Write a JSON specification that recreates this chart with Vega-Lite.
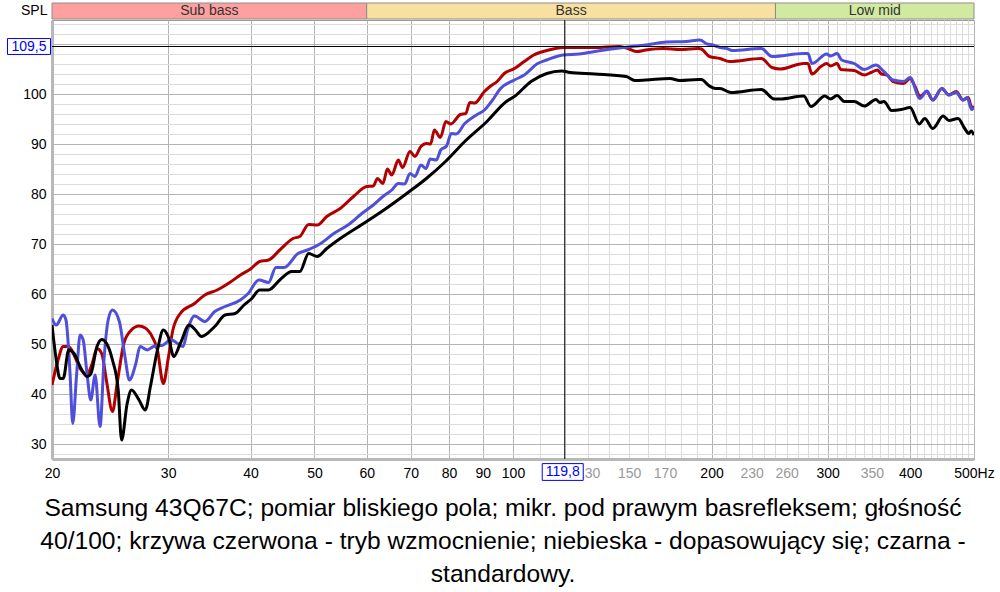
{
  "$schema": "https://vega.github.io/schema/vega-lite/v6.json",
  "width": 922,
  "height": 439,
  "autosize": {"type": "none"},
  "padding": {"left": 52, "top": 20, "right": 26, "bottom": 133},
  "background": "white",
  "config": {
    "view": {"stroke": "#999999", "strokeWidth": 1},
    "font": "Liberation Sans",
    "axis": {"labelFontSize": 14, "labelFont": "Liberation Sans", "labelColor": "#000000", "ticks": false, "grid": true, "gridWidth": 1, "domainColor": "#b8b8b8", "domainWidth": 3, "labelOverlap": false, "labelFlush": false},
    "axisY": {"titleAngle": 0, "titleAlign": "right", "titleBaseline": "alphabetic", "titleX": -5, "titleY": -6, "titleFontSize": 14, "titleFontWeight": "normal", "titleFont": "Liberation Sans", "titleColor": "#000000", "labelPadding": 6},
    "axisX": {"labelPadding": 7}
  },
  "title": {
    "text": ["Samsung 43Q67C; pomiar bliskiego pola; mikr. pod prawym basrefleksem; głośność", "40/100; krzywa czerwona - tryb wzmocnienie; niebieska - dopasowujący się; czarna -", "standardowy."],
    "orient": "bottom",
    "anchor": "middle",
    "frame": "group",
    "dx": -10,
    "offset": 15,
    "fontSize": 24.6,
    "fontWeight": "normal",
    "font": "Liberation Sans",
    "color": "black",
    "lineHeight": 33
  },
  "datasets": {
    "bands": [
      {"band": "Sub bass", "f1": 20, "f2": 60},
      {"band": "Bass", "f1": 60, "f2": 250},
      {"band": "Low mid", "f1": 250, "f2": 500}
    ],
    "red": [
      {"f": 20, "db": 41.8}, {"f": 20.4, "db": 46.5}, {"f": 20.8, "db": 49.5}, {"f": 21.2, "db": 49.5}, {"f": 21.6, "db": 47.8},
      {"f": 22.06, "db": 45.1}, {"f": 22.6, "db": 44.0}, {"f": 23.0, "db": 46.0}, {"f": 23.4, "db": 49.1}, {"f": 23.8, "db": 48.0},
      {"f": 24.2, "db": 42.5}, {"f": 24.7, "db": 36.5}, {"f": 25.1, "db": 42.0}, {"f": 25.7, "db": 50.1}, {"f": 26.3, "db": 52.6},
      {"f": 27.1, "db": 53.6}, {"f": 27.7, "db": 53.2}, {"f": 28.2, "db": 52.1}, {"f": 28.9, "db": 48.8}, {"f": 29.5, "db": 42.1},
      {"f": 30.0, "db": 47.0}, {"f": 30.5, "db": 52.8}, {"f": 31.3, "db": 56.1}, {"f": 32.9, "db": 58.1}, {"f": 34.1, "db": 59.8},
      {"f": 35.6, "db": 60.8}, {"f": 37.3, "db": 62.4}, {"f": 38.6, "db": 63.8}, {"f": 40.0, "db": 65.0}, {"f": 41.3, "db": 66.5},
      {"f": 42.6, "db": 66.8}, {"f": 44.3, "db": 68.8}, {"f": 46.4, "db": 71.1}, {"f": 47.5, "db": 71.5}, {"f": 49.0, "db": 73.9},
      {"f": 50.5, "db": 73.8}, {"f": 52.2, "db": 75.5}, {"f": 54.7, "db": 77.1}, {"f": 57.3, "db": 79.5}, {"f": 60, "db": 81.5},
      {"f": 61.4, "db": 81.6}, {"f": 62.3, "db": 83.1}, {"f": 63.5, "db": 82.1}, {"f": 64.5, "db": 85.0}, {"f": 65.5, "db": 83.8},
      {"f": 67, "db": 86.8}, {"f": 68, "db": 85.3}, {"f": 69.8, "db": 88.5}, {"f": 71, "db": 87.5}, {"f": 72.5, "db": 89.5},
      {"f": 73.9, "db": 90.1}, {"f": 75, "db": 90.0}, {"f": 76, "db": 92.8}, {"f": 77.6, "db": 91.3}, {"f": 79.1, "db": 94.5},
      {"f": 80.5, "db": 94.0}, {"f": 83.2, "db": 95.9}, {"f": 84.8, "db": 96.1}, {"f": 86, "db": 98.3}, {"f": 87.5, "db": 98.2},
      {"f": 90.5, "db": 100.5}, {"f": 92.3, "db": 101.5}, {"f": 94.6, "db": 102.5}, {"f": 97, "db": 104.1}, {"f": 100.5, "db": 105.1},
      {"f": 104, "db": 106.5}, {"f": 107.5, "db": 107.8}, {"f": 112.5, "db": 108.7}, {"f": 119.6, "db": 109.3}, {"f": 126, "db": 109.3},
      {"f": 133, "db": 109.3}, {"f": 145, "db": 109.5}, {"f": 150, "db": 109.0}, {"f": 154, "db": 108.5}, {"f": 159, "db": 108.8},
      {"f": 169, "db": 109.1}, {"f": 179.5, "db": 108.9}, {"f": 191, "db": 109.1}, {"f": 193, "db": 109.0}, {"f": 198.5, "db": 107.5},
      {"f": 206, "db": 107.1}, {"f": 213, "db": 106.5}, {"f": 238, "db": 107.1}, {"f": 247, "db": 105.3}, {"f": 254, "db": 105.0},
      {"f": 276, "db": 106.1}, {"f": 280, "db": 106.1}, {"f": 284, "db": 104.0}, {"f": 293, "db": 105.5}, {"f": 299, "db": 106.1},
      {"f": 303, "db": 105.6}, {"f": 310, "db": 106.1}, {"f": 314, "db": 104.9}, {"f": 329, "db": 104.7}, {"f": 341, "db": 103.8},
      {"f": 349, "db": 104.3}, {"f": 357, "db": 104.8}, {"f": 362, "db": 104.0}, {"f": 369, "db": 103.8}, {"f": 377, "db": 102.5},
      {"f": 391, "db": 102.1}, {"f": 400, "db": 103.1}, {"f": 407, "db": 101.5}, {"f": 414, "db": 99.5}, {"f": 424, "db": 100.5},
      {"f": 433, "db": 98.8}, {"f": 447, "db": 101.1}, {"f": 458, "db": 99.8}, {"f": 470, "db": 100.5}, {"f": 481, "db": 98.8},
      {"f": 490, "db": 99.3}, {"f": 496, "db": 97.3}, {"f": 500, "db": 97.5}
    ],
    "blue": [
      {"f": 20, "db": 55.1}, {"f": 20.3, "db": 53.8}, {"f": 20.8, "db": 55.8}, {"f": 21.0, "db": 54.8}, {"f": 21.3, "db": 44.1},
      {"f": 21.5, "db": 34.1}, {"f": 21.8, "db": 44.1}, {"f": 22.06, "db": 51.8}, {"f": 22.3, "db": 50.8}, {"f": 22.6, "db": 44.1},
      {"f": 22.9, "db": 38.8}, {"f": 23.25, "db": 43.8}, {"f": 23.65, "db": 33.5}, {"f": 24.0, "db": 47.5}, {"f": 24.35, "db": 55.0},
      {"f": 24.7, "db": 56.8}, {"f": 25.3, "db": 54.5}, {"f": 25.8, "db": 47.5}, {"f": 26.2, "db": 42.8}, {"f": 26.8, "db": 46.1},
      {"f": 27.2, "db": 49.5}, {"f": 27.9, "db": 48.8}, {"f": 28.5, "db": 49.5}, {"f": 29.5, "db": 49.8}, {"f": 30.3, "db": 50.9},
      {"f": 31.0, "db": 50.1}, {"f": 31.6, "db": 49.5}, {"f": 32.1, "db": 52.8}, {"f": 32.9, "db": 55.6}, {"f": 34.1, "db": 54.5},
      {"f": 35.3, "db": 56.5}, {"f": 36.6, "db": 57.5}, {"f": 38.6, "db": 58.8}, {"f": 39.6, "db": 60.0}, {"f": 41.2, "db": 62.8},
      {"f": 42.6, "db": 62.3}, {"f": 43.7, "db": 65.3}, {"f": 45, "db": 65.3}, {"f": 47.2, "db": 68.1}, {"f": 48.8, "db": 68.8},
      {"f": 51.1, "db": 70.1}, {"f": 53.5, "db": 72.1}, {"f": 56.2, "db": 73.8}, {"f": 59, "db": 76.1}, {"f": 61.4, "db": 77.8},
      {"f": 63.5, "db": 79.5}, {"f": 65.5, "db": 80.8}, {"f": 67, "db": 82.1}, {"f": 68.5, "db": 82.0}, {"f": 69.8, "db": 84.1},
      {"f": 71, "db": 83.5}, {"f": 72.5, "db": 85.8}, {"f": 73.8, "db": 85.1}, {"f": 74.9, "db": 87.0}, {"f": 76.5, "db": 86.8},
      {"f": 77.7, "db": 88.8}, {"f": 79.3, "db": 89.6}, {"f": 80.6, "db": 92.1}, {"f": 82, "db": 92.0}, {"f": 84.5, "db": 94.1},
      {"f": 88, "db": 95.8}, {"f": 90.5, "db": 96.8}, {"f": 93, "db": 98.7}, {"f": 95.6, "db": 101.0}, {"f": 100.5, "db": 102.8},
      {"f": 104, "db": 103.8}, {"f": 109, "db": 106.1}, {"f": 112.5, "db": 106.8}, {"f": 119, "db": 107.8}, {"f": 126, "db": 108.0},
      {"f": 133, "db": 108.5}, {"f": 147, "db": 109.3}, {"f": 159, "db": 109.8}, {"f": 171, "db": 110.4}, {"f": 183, "db": 110.5},
      {"f": 192, "db": 110.8}, {"f": 197, "db": 110.0}, {"f": 201, "db": 109.8}, {"f": 206, "db": 109.3}, {"f": 211, "db": 109.1},
      {"f": 215, "db": 108.7}, {"f": 238, "db": 109.1}, {"f": 247, "db": 107.5}, {"f": 276, "db": 108.1}, {"f": 280, "db": 108.1},
      {"f": 284, "db": 106.1}, {"f": 299, "db": 108.0}, {"f": 303, "db": 107.6}, {"f": 310, "db": 108.1}, {"f": 315, "db": 106.8},
      {"f": 329, "db": 106.1}, {"f": 341, "db": 104.9}, {"f": 355, "db": 105.8}, {"f": 365, "db": 104.5}, {"f": 377, "db": 102.8},
      {"f": 391, "db": 102.5}, {"f": 400, "db": 103.3}, {"f": 414, "db": 99.1}, {"f": 424, "db": 100.6}, {"f": 433, "db": 98.8},
      {"f": 447, "db": 101.1}, {"f": 458, "db": 99.8}, {"f": 470, "db": 100.3}, {"f": 481, "db": 98.8}, {"f": 488, "db": 99.3},
      {"f": 496, "db": 96.9}, {"f": 500, "db": 97.3}
    ],
    "black": [
      {"f": 20, "db": 53.8}, {"f": 20.3, "db": 46.8}, {"f": 20.56, "db": 43.1}, {"f": 20.8, "db": 43.1}, {"f": 21.2, "db": 48.8},
      {"f": 21.6, "db": 48.1}, {"f": 22.06, "db": 45.5}, {"f": 22.6, "db": 43.5}, {"f": 22.9, "db": 44.0}, {"f": 23.4, "db": 49.5},
      {"f": 23.8, "db": 50.9}, {"f": 24.2, "db": 50.1}, {"f": 24.7, "db": 46.8}, {"f": 25.2, "db": 40.8}, {"f": 25.5, "db": 30.8},
      {"f": 26.0, "db": 38.1}, {"f": 26.4, "db": 40.8}, {"f": 27.1, "db": 38.8}, {"f": 27.7, "db": 36.8}, {"f": 28.2, "db": 41.5},
      {"f": 28.9, "db": 48.8}, {"f": 29.5, "db": 52.8}, {"f": 30.0, "db": 51.5}, {"f": 30.6, "db": 47.5}, {"f": 31.3, "db": 50.1},
      {"f": 32.3, "db": 53.8}, {"f": 33.0, "db": 52.8}, {"f": 33.7, "db": 51.5}, {"f": 35.3, "db": 53.5}, {"f": 36.6, "db": 55.8},
      {"f": 37.9, "db": 56.1}, {"f": 39.1, "db": 57.8}, {"f": 40.1, "db": 59.0}, {"f": 41.3, "db": 60.8}, {"f": 42.6, "db": 60.8},
      {"f": 44.3, "db": 62.8}, {"f": 46.2, "db": 64.5}, {"f": 47.5, "db": 64.5}, {"f": 49.0, "db": 68.1}, {"f": 50.5, "db": 67.5},
      {"f": 52.2, "db": 69.1}, {"f": 54.7, "db": 71.1}, {"f": 60, "db": 74.5}, {"f": 64.2, "db": 77.1}, {"f": 69, "db": 80.1},
      {"f": 73.9, "db": 83.1}, {"f": 79, "db": 86.5}, {"f": 84.5, "db": 90.5}, {"f": 91.3, "db": 94.5}, {"f": 97.7, "db": 98.5},
      {"f": 100.5, "db": 99.5}, {"f": 106.5, "db": 102.5}, {"f": 112.5, "db": 104.1}, {"f": 118.5, "db": 104.6}, {"f": 122, "db": 104.3},
      {"f": 133, "db": 104.0}, {"f": 148.5, "db": 103.5}, {"f": 153, "db": 102.7}, {"f": 159, "db": 102.8}, {"f": 173, "db": 103.1},
      {"f": 179, "db": 102.7}, {"f": 191, "db": 102.9}, {"f": 193, "db": 102.9}, {"f": 198.5, "db": 101.6}, {"f": 203, "db": 101.1},
      {"f": 206, "db": 101.1}, {"f": 214, "db": 100.3}, {"f": 238, "db": 100.9}, {"f": 249, "db": 99.0}, {"f": 254, "db": 99.0},
      {"f": 276, "db": 99.6}, {"f": 283, "db": 97.5}, {"f": 297, "db": 99.6}, {"f": 303, "db": 99.0}, {"f": 310, "db": 99.7},
      {"f": 318, "db": 98.5}, {"f": 329, "db": 98.5}, {"f": 341, "db": 97.6}, {"f": 355, "db": 98.9}, {"f": 360, "db": 98.3},
      {"f": 365, "db": 98.5}, {"f": 375, "db": 96.7}, {"f": 388, "db": 96.9}, {"f": 400, "db": 97.3}, {"f": 413, "db": 94.0},
      {"f": 421, "db": 95.1}, {"f": 433, "db": 93.1}, {"f": 449, "db": 95.6}, {"f": 458, "db": 94.7}, {"f": 473, "db": 95.1},
      {"f": 484, "db": 93.1}, {"f": 491, "db": 92.1}, {"f": 495, "db": 92.6}, {"f": 500, "db": 91.8}
    ]
  },
  "layer": [
    {
      "data": {"name": "red"},
      "mark": {"type": "line", "color": "#b00000", "strokeWidth": 3, "interpolate": "monotone", "clip": true},
      "encoding": {
        "x": {"field": "f", "type": "quantitative", "scale": {"type": "log", "domain": [20, 500], "nice": false},
          "axis": {"title": null, "values": [20, 30, 40, 50, 60, 70, 80, 90, 100, 110, 120, 130, 140, 150, 160, 170, 180, 190, 200, 210, 220, 230, 240, 250, 260, 270, 280, 290, 300, 310, 320, 330, 340, 350, 360, 370, 380, 390, 400, 410, 420, 430, 440, 450, 460, 470, 480, 490, 500], "labelExpr": "indexof([20,30,40,50,60,70,80,90,100,130,150,170,200,230,260,300,350,400], round(datum.value)) >= 0 ? format(round(datum.value), 'd') : (round(datum.value) == 500 ? '500Hz' : '')", "labelColor": {"condition": {"test": "indexof([130,150,170,230,260,350], round(datum.value)) >= 0", "value": "#999999"}, "value": "#000000"}, "gridColor": {"condition": {"test": "round(datum.value) <= 100 || round(datum.value) % 100 == 0", "value": "#b4b4b4"}, "value": "#dcdcdc"}}},
        "y": {"field": "db", "type": "quantitative", "scale": {"domain": [27, 114.8], "nice": false, "zero": false},
          "axis": {"title": "SPL", "values": [28, 30, 32, 34, 36, 38, 40, 42, 44, 46, 48, 50, 52, 54, 56, 58, 60, 62, 64, 66, 68, 70, 72, 74, 76, 78, 80, 82, 84, 86, 88, 90, 92, 94, 96, 98, 100, 102, 104, 106, 108, 110, 112, 114], "labelExpr": "(round(datum.value) % 10 == 0 && round(datum.value) <= 100) ? format(round(datum.value), 'd') : ''", "gridColor": {"condition": {"test": "round(datum.value) % 10 == 0", "value": "#b4b4b4"}, "value": "#dcdcdc"}}}
      }
    },
    {
      "data": {"name": "blue"},
      "mark": {"type": "line", "color": "#4f4fd8", "strokeWidth": 3, "interpolate": "monotone", "clip": true},
      "encoding": {
        "x": {"field": "f", "type": "quantitative",
          "axis": {"title": null, "values": [20, 30, 40, 50, 60, 70, 80, 90, 100, 110, 120, 130, 140, 150, 160, 170, 180, 190, 200, 210, 220, 230, 240, 250, 260, 270, 280, 290, 300, 310, 320, 330, 340, 350, 360, 370, 380, 390, 400, 410, 420, 430, 440, 450, 460, 470, 480, 490, 500], "labelExpr": "indexof([20,30,40,50,60,70,80,90,100,130,150,170,200,230,260,300,350,400], round(datum.value)) >= 0 ? format(round(datum.value), 'd') : (round(datum.value) == 500 ? '500Hz' : '')", "labelColor": {"condition": {"test": "indexof([130,150,170,230,260,350], round(datum.value)) >= 0", "value": "#999999"}, "value": "#000000"}, "gridColor": {"condition": {"test": "round(datum.value) <= 100 || round(datum.value) % 100 == 0", "value": "#b4b4b4"}, "value": "#dcdcdc"}}},
        "y": {"field": "db", "type": "quantitative",
          "axis": {"title": "SPL", "values": [28, 30, 32, 34, 36, 38, 40, 42, 44, 46, 48, 50, 52, 54, 56, 58, 60, 62, 64, 66, 68, 70, 72, 74, 76, 78, 80, 82, 84, 86, 88, 90, 92, 94, 96, 98, 100, 102, 104, 106, 108, 110, 112, 114], "labelExpr": "(round(datum.value) % 10 == 0 && round(datum.value) <= 100) ? format(round(datum.value), 'd') : ''", "gridColor": {"condition": {"test": "round(datum.value) % 10 == 0", "value": "#b4b4b4"}, "value": "#dcdcdc"}}}
      }
    },
    {
      "data": {"name": "black"},
      "mark": {"type": "line", "color": "#000000", "strokeWidth": 3, "interpolate": "monotone", "clip": true},
      "encoding": {
        "x": {"field": "f", "type": "quantitative",
          "axis": {"title": null, "values": [20, 30, 40, 50, 60, 70, 80, 90, 100, 110, 120, 130, 140, 150, 160, 170, 180, 190, 200, 210, 220, 230, 240, 250, 260, 270, 280, 290, 300, 310, 320, 330, 340, 350, 360, 370, 380, 390, 400, 410, 420, 430, 440, 450, 460, 470, 480, 490, 500], "labelExpr": "indexof([20,30,40,50,60,70,80,90,100,130,150,170,200,230,260,300,350,400], round(datum.value)) >= 0 ? format(round(datum.value), 'd') : (round(datum.value) == 500 ? '500Hz' : '')", "labelColor": {"condition": {"test": "indexof([130,150,170,230,260,350], round(datum.value)) >= 0", "value": "#999999"}, "value": "#000000"}, "gridColor": {"condition": {"test": "round(datum.value) <= 100 || round(datum.value) % 100 == 0", "value": "#b4b4b4"}, "value": "#dcdcdc"}}},
        "y": {"field": "db", "type": "quantitative",
          "axis": {"title": "SPL", "values": [28, 30, 32, 34, 36, 38, 40, 42, 44, 46, 48, 50, 52, 54, 56, 58, 60, 62, 64, 66, 68, 70, 72, 74, 76, 78, 80, 82, 84, 86, 88, 90, 92, 94, 96, 98, 100, 102, 104, 106, 108, 110, 112, 114], "labelExpr": "(round(datum.value) % 10 == 0 && round(datum.value) <= 100) ? format(round(datum.value), 'd') : ''", "gridColor": {"condition": {"test": "round(datum.value) % 10 == 0", "value": "#b4b4b4"}, "value": "#dcdcdc"}}}
      }
    },
    {
      "data": {"name": "bands"},
      "mark": {"type": "rect", "stroke": "#8c8c8c", "strokeWidth": 1, "clip": false},
      "encoding": {
        "x": {"field": "f1", "type": "quantitative",
          "axis": {"title": null, "values": [20, 30, 40, 50, 60, 70, 80, 90, 100, 110, 120, 130, 140, 150, 160, 170, 180, 190, 200, 210, 220, 230, 240, 250, 260, 270, 280, 290, 300, 310, 320, 330, 340, 350, 360, 370, 380, 390, 400, 410, 420, 430, 440, 450, 460, 470, 480, 490, 500], "labelExpr": "indexof([20,30,40,50,60,70,80,90,100,130,150,170,200,230,260,300,350,400], round(datum.value)) >= 0 ? format(round(datum.value), 'd') : (round(datum.value) == 500 ? '500Hz' : '')", "labelColor": {"condition": {"test": "indexof([130,150,170,230,260,350], round(datum.value)) >= 0", "value": "#999999"}, "value": "#000000"}, "gridColor": {"condition": {"test": "round(datum.value) <= 100 || round(datum.value) % 100 == 0", "value": "#b4b4b4"}, "value": "#dcdcdc"}}},
        "x2": {"field": "f2"},
        "y": {"datum": 115.0, "type": "quantitative",
          "axis": {"title": "SPL", "values": [28, 30, 32, 34, 36, 38, 40, 42, 44, 46, 48, 50, 52, 54, 56, 58, 60, 62, 64, 66, 68, 70, 72, 74, 76, 78, 80, 82, 84, 86, 88, 90, 92, 94, 96, 98, 100, 102, 104, 106, 108, 110, 112, 114], "labelExpr": "(round(datum.value) % 10 == 0 && round(datum.value) <= 100) ? format(round(datum.value), 'd') : ''", "gridColor": {"condition": {"test": "round(datum.value) % 10 == 0", "value": "#b4b4b4"}, "value": "#dcdcdc"}}},
        "y2": {"datum": 118.2},
        "color": {"field": "band", "type": "nominal", "scale": {"domain": ["Sub bass", "Bass", "Low mid"], "range": ["#ffa0a0", "#f8e0a0", "#d2eaa0"]}, "legend": null}
      }
    },
    {
      "data": {"name": "bands"},
      "transform": [{"calculate": "sqrt(datum.f1 * datum.f2)", "as": "fc"}],
      "mark": {"type": "text", "fontSize": 14, "font": "Liberation Sans", "color": "#333333", "baseline": "middle", "align": "center", "clip": false},
      "encoding": {
        "x": {"field": "fc", "type": "quantitative",
          "axis": {"title": null, "values": [20, 30, 40, 50, 60, 70, 80, 90, 100, 110, 120, 130, 140, 150, 160, 170, 180, 190, 200, 210, 220, 230, 240, 250, 260, 270, 280, 290, 300, 310, 320, 330, 340, 350, 360, 370, 380, 390, 400, 410, 420, 430, 440, 450, 460, 470, 480, 490, 500], "labelExpr": "indexof([20,30,40,50,60,70,80,90,100,130,150,170,200,230,260,300,350,400], round(datum.value)) >= 0 ? format(round(datum.value), 'd') : (round(datum.value) == 500 ? '500Hz' : '')", "labelColor": {"condition": {"test": "indexof([130,150,170,230,260,350], round(datum.value)) >= 0", "value": "#999999"}, "value": "#000000"}, "gridColor": {"condition": {"test": "round(datum.value) <= 100 || round(datum.value) % 100 == 0", "value": "#b4b4b4"}, "value": "#dcdcdc"}}},
        "y": {"datum": 116.6, "type": "quantitative",
          "axis": {"title": "SPL", "values": [28, 30, 32, 34, 36, 38, 40, 42, 44, 46, 48, 50, 52, 54, 56, 58, 60, 62, 64, 66, 68, 70, 72, 74, 76, 78, 80, 82, 84, 86, 88, 90, 92, 94, 96, 98, 100, 102, 104, 106, 108, 110, 112, 114], "labelExpr": "(round(datum.value) % 10 == 0 && round(datum.value) <= 100) ? format(round(datum.value), 'd') : ''", "gridColor": {"condition": {"test": "round(datum.value) % 10 == 0", "value": "#b4b4b4"}, "value": "#dcdcdc"}}},
        "text": {"field": "band"}
      }
    },
    {
      "data": {"values": [{"v": 109.5}]},
      "mark": {"type": "rule", "color": "#000000", "strokeWidth": 1},
      "encoding": {
        "y": {"field": "v", "type": "quantitative",
          "axis": {"title": "SPL", "values": [28, 30, 32, 34, 36, 38, 40, 42, 44, 46, 48, 50, 52, 54, 56, 58, 60, 62, 64, 66, 68, 70, 72, 74, 76, 78, 80, 82, 84, 86, 88, 90, 92, 94, 96, 98, 100, 102, 104, 106, 108, 110, 112, 114], "labelExpr": "(round(datum.value) % 10 == 0 && round(datum.value) <= 100) ? format(round(datum.value), 'd') : ''", "gridColor": {"condition": {"test": "round(datum.value) % 10 == 0", "value": "#b4b4b4"}, "value": "#dcdcdc"}}}
      }
    },
    {
      "data": {"values": [{"v": 119.8}]},
      "mark": {"type": "rule", "color": "#000000", "strokeWidth": 1},
      "encoding": {
        "x": {"field": "v", "type": "quantitative",
          "axis": {"title": null, "values": [20, 30, 40, 50, 60, 70, 80, 90, 100, 110, 120, 130, 140, 150, 160, 170, 180, 190, 200, 210, 220, 230, 240, 250, 260, 270, 280, 290, 300, 310, 320, 330, 340, 350, 360, 370, 380, 390, 400, 410, 420, 430, 440, 450, 460, 470, 480, 490, 500], "labelExpr": "indexof([20,30,40,50,60,70,80,90,100,130,150,170,200,230,260,300,350,400], round(datum.value)) >= 0 ? format(round(datum.value), 'd') : (round(datum.value) == 500 ? '500Hz' : '')", "labelColor": {"condition": {"test": "indexof([130,150,170,230,260,350], round(datum.value)) >= 0", "value": "#999999"}, "value": "#000000"}, "gridColor": {"condition": {"test": "round(datum.value) <= 100 || round(datum.value) % 100 == 0", "value": "#b4b4b4"}, "value": "#dcdcdc"}}}
      }
    },
    {
      "data": {"values": [{"v": 109.5, "t": "109,5"}]},
      "layer": [
        {"mark": {"type": "point", "shape": "M-1,-0.37H1V0.37H-1Z", "size": 1849, "filled": false, "fill": "white", "fillOpacity": 1, "stroke": "#0000ff", "strokeWidth": 1, "opacity": 1, "xOffset": -23, "clip": false}},
        {"mark": {"type": "text", "fontSize": 14, "font": "Liberation Sans", "color": "#0000ff", "align": "center", "baseline": "middle", "dx": -23, "clip": false}, "encoding": {"text": {"field": "t"}}}
      ],
      "encoding": {
        "x": {"datum": 20, "type": "quantitative",
          "axis": {"title": null, "values": [20, 30, 40, 50, 60, 70, 80, 90, 100, 110, 120, 130, 140, 150, 160, 170, 180, 190, 200, 210, 220, 230, 240, 250, 260, 270, 280, 290, 300, 310, 320, 330, 340, 350, 360, 370, 380, 390, 400, 410, 420, 430, 440, 450, 460, 470, 480, 490, 500], "labelExpr": "indexof([20,30,40,50,60,70,80,90,100,130,150,170,200,230,260,300,350,400], round(datum.value)) >= 0 ? format(round(datum.value), 'd') : (round(datum.value) == 500 ? '500Hz' : '')", "labelColor": {"condition": {"test": "indexof([130,150,170,230,260,350], round(datum.value)) >= 0", "value": "#999999"}, "value": "#000000"}, "gridColor": {"condition": {"test": "round(datum.value) <= 100 || round(datum.value) % 100 == 0", "value": "#b4b4b4"}, "value": "#dcdcdc"}}},
        "y": {"field": "v", "type": "quantitative",
          "axis": {"title": "SPL", "values": [28, 30, 32, 34, 36, 38, 40, 42, 44, 46, 48, 50, 52, 54, 56, 58, 60, 62, 64, 66, 68, 70, 72, 74, 76, 78, 80, 82, 84, 86, 88, 90, 92, 94, 96, 98, 100, 102, 104, 106, 108, 110, 112, 114], "labelExpr": "(round(datum.value) % 10 == 0 && round(datum.value) <= 100) ? format(round(datum.value), 'd') : ''", "gridColor": {"condition": {"test": "round(datum.value) % 10 == 0", "value": "#b4b4b4"}, "value": "#dcdcdc"}}}
      }
    },
    {
      "data": {"values": [{"v": 119.8, "t": "119,8"}]},
      "layer": [
        {"mark": {"type": "point", "shape": "M-1,-0.41H1V0.41H-1Z", "size": 1681, "filled": false, "fill": "white", "fillOpacity": 1, "stroke": "#0000ff", "strokeWidth": 1, "opacity": 1, "yOffset": 13, "xOffset": -2, "clip": false}},
        {"mark": {"type": "text", "fontSize": 14, "font": "Liberation Sans", "color": "#0000ff", "align": "center", "baseline": "middle", "dy": 13, "dx": -2, "clip": false}, "encoding": {"text": {"field": "t"}}}
      ],
      "encoding": {
        "x": {"field": "v", "type": "quantitative",
          "axis": {"title": null, "values": [20, 30, 40, 50, 60, 70, 80, 90, 100, 110, 120, 130, 140, 150, 160, 170, 180, 190, 200, 210, 220, 230, 240, 250, 260, 270, 280, 290, 300, 310, 320, 330, 340, 350, 360, 370, 380, 390, 400, 410, 420, 430, 440, 450, 460, 470, 480, 490, 500], "labelExpr": "indexof([20,30,40,50,60,70,80,90,100,130,150,170,200,230,260,300,350,400], round(datum.value)) >= 0 ? format(round(datum.value), 'd') : (round(datum.value) == 500 ? '500Hz' : '')", "labelColor": {"condition": {"test": "indexof([130,150,170,230,260,350], round(datum.value)) >= 0", "value": "#999999"}, "value": "#000000"}, "gridColor": {"condition": {"test": "round(datum.value) <= 100 || round(datum.value) % 100 == 0", "value": "#b4b4b4"}, "value": "#dcdcdc"}}},
        "y": {"datum": 27, "type": "quantitative",
          "axis": {"title": "SPL", "values": [28, 30, 32, 34, 36, 38, 40, 42, 44, 46, 48, 50, 52, 54, 56, 58, 60, 62, 64, 66, 68, 70, 72, 74, 76, 78, 80, 82, 84, 86, 88, 90, 92, 94, 96, 98, 100, 102, 104, 106, 108, 110, 112, 114], "labelExpr": "(round(datum.value) % 10 == 0 && round(datum.value) <= 100) ? format(round(datum.value), 'd') : ''", "gridColor": {"condition": {"test": "round(datum.value) % 10 == 0", "value": "#b4b4b4"}, "value": "#dcdcdc"}}}
      }
    }
  ]
}
